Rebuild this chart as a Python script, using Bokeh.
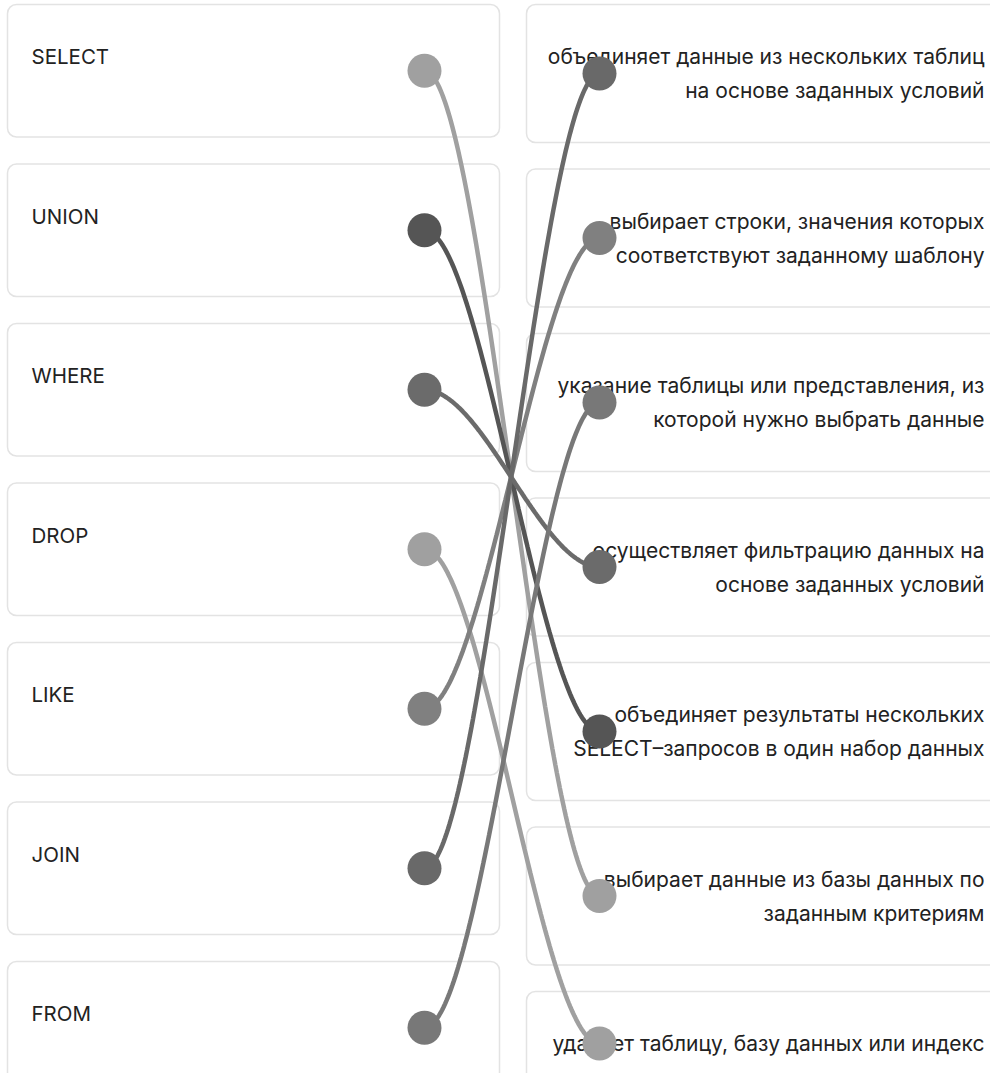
import numpy as np
from bokeh.plotting import figure
from bokeh.models import Range1d
from bokeh.core.properties import value
from bokeh.embed import file_html
from bokeh.resources import INLINE

# ---- data ----
left_labels = ["SELECT", "UNION", "WHERE", "DROP", "LIKE", "JOIN", "FROM"]
left_colors = ["#a0a0a0", "#555555", "#6b6b6b", "#a0a0a0", "#808080", "#696969", "#787878"]
right_texts = [
    ["объединяет данные из нескольких таблиц", "на основе заданных условий"],
    ["выбирает строки, значения которых", "соответствуют заданному шаблону"],
    ["указание таблицы или представления, из", "которой нужно выбрать данные"],
    ["осуществляет фильтрацию данных на", "основе заданных условий"],
    ["объединяет результаты нескольких", "SELECT–запросов в один набор данных"],
    ["выбирает данные из базы данных по", "заданным критериям"],
    ["удаляет таблицу, базу данных или индекс"],
]
# index of the matched right item for each left item
matches = [5, 4, 3, 6, 1, 0, 2]

# ---- layout ----
W, H = 990, 1073
X0, Y0 = 0, 0
L_X0, L_X1 = 7, 499
L_TOP, L_PITCH, L_H = 4, 159.5, 132.5
R_X0, R_X1 = 526, 1040
R_TOP, R_GAP, R_LINE_H, R_BASE_H = 4, 26.5, 34, 104
R_TEXT_X = 984
DOT_LX, DOT_RX = 424, 599
TEXT_COLOR = "#222222"
FONT = "Inter"

p = figure(width=W, height=H, output_backend="svg", toolbar_location=None,
           x_range=Range1d(X0, X0 + W), y_range=Range1d(Y0 + H, Y0),
           min_border=0, outline_line_color=None)
p.axis.visible = False
p.grid.visible = False
p.background_fill_color = "white"
p.border_fill_color = "white"

# left boxes
n = len(left_labels)
l_tops = np.array([L_TOP + i * L_PITCH for i in range(n)])
l_bots = l_tops + L_H
l_cy = (l_tops + l_bots) / 2
p.quad(left=[L_X0] * n, right=[L_X1] * n, top=list(l_tops), bottom=list(l_bots),
       fill_color="white", line_color="#e3e3e3", line_width=1.5, border_radius=9)

# right boxes
r_heights = [R_BASE_H + R_LINE_H * (len(t) - 1) for t in right_texts]
r_tops = []
y = R_TOP
for h in r_heights:
    r_tops.append(y)
    y += h + R_GAP
r_tops = np.array(r_tops)
r_bots = r_tops + np.array(r_heights)
r_cy = (r_tops + r_bots) / 2
p.quad(left=[R_X0] * n, right=[R_X1] * n, top=list(r_tops), bottom=list(r_bots),
       fill_color="white", line_color="#e3e3e3", line_width=1.5, border_radius=9)

# left texts
p.text(x=[L_X0 + 24] * n, y=list(l_tops + 52), text=left_labels,
       text_font=value(FONT), text_font_size="20.5px", text_color=TEXT_COLOR,
       text_baseline="middle", text_align="left")

# right texts
tx, ty, tt = [], [], []
for i, lines in enumerate(right_texts):
    k = len(lines)
    for j, line in enumerate(lines):
        tx.append(R_TEXT_X)
        ty.append(r_cy[i] + (j - (k - 1) / 2) * R_LINE_H)
        tt.append(line)
p.text(x=tx, y=ty, text=tt, text_font=value(FONT), text_font_size="21px",
       text_color=TEXT_COLOR, text_baseline="middle", text_align="right")

# connecting curves
t = np.linspace(0, 1, 120)
xs, ys, cs = [], [], []
for i, j in enumerate(matches):
    x1, y1 = DOT_LX, l_cy[i]
    x2, y2 = DOT_RX, r_cy[j]
    a = (x2 - x1) / 3
    c1x, c1y = x1 + a, y1
    c2x, c2y = x2 - a, y2
    bx = (1 - t) ** 3 * x1 + 3 * (1 - t) ** 2 * t * c1x + 3 * (1 - t) * t ** 2 * c2x + t ** 3 * x2
    by = (1 - t) ** 3 * y1 + 3 * (1 - t) ** 2 * t * c1y + 3 * (1 - t) * t ** 2 * c2y + t ** 3 * y2
    xs.append(list(bx))
    ys.append(list(by))
    cs.append(left_colors[i])
p.multi_line(xs=xs, ys=ys, line_color=cs, line_width=4.5, line_cap="round")

# dots
right_colors = [None] * n
for i, j in enumerate(matches):
    right_colors[j] = left_colors[i]
p.scatter(x=[DOT_LX] * n, y=list(l_cy), size=34, fill_color=left_colors, line_color=None)
p.scatter(x=[DOT_RX] * n, y=list(r_cy), size=34, fill_color=right_colors, line_color=None)

open("out.html", "w").write(file_html(p, INLINE))
